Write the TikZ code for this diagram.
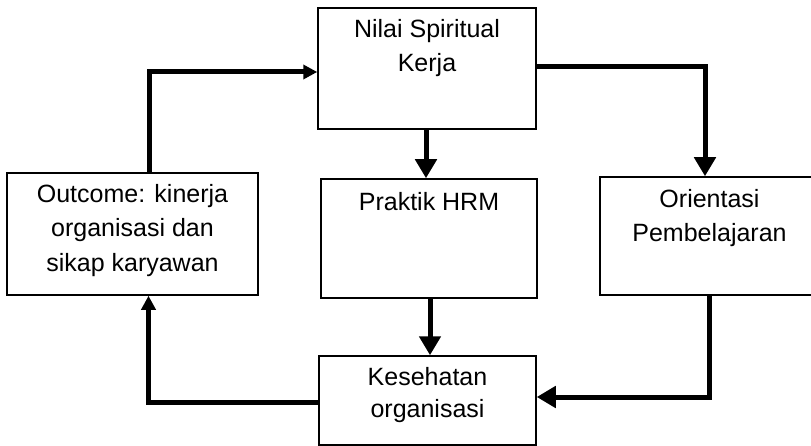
\documentclass[tikz,border=0pt]{standalone}
\usepackage{fontspec}
\setmainfont{Liberation Sans}
\usetikzlibrary{arrows.meta}

% multi-line, centred box caption; its base is the first line's baseline
\newcommand\stacktext[2][34.5pt]{\parbox[t]{260pt}{\centering\fontsize{25pt}{#1}\selectfont #2}}

\tikzset{
  block/.style={draw=black, line width=1.5pt, fill=white, inner sep=0pt, anchor=center},
  caption/.style={anchor=base, inner sep=0pt},
  conn/.style={draw=black, line width=5pt, line join=miter},
  bigtip/.style={-{Triangle[length=19pt,width=21pt]}},
  smalltip/.style={-{Triangle[length=14pt,width=14pt]}}
}

\begin{document}
\begin{tikzpicture}[x=1pt,y=-1pt]
  \useasboundingbox (0,0) rectangle (811,446);

  % boxes
  \node[block, minimum width=218pt, minimum height=121pt] (nilai)   at (427,68.5)   {};
  \node[block, minimum width=216pt, minimum height=119pt] (praktik) at (429,238.5)  {};
  \node[block, minimum width=219pt, minimum height=118pt] (orient)  at (709.5,236)  {};
  \node[block, minimum width=251pt, minimum height=122pt] (outcome) at (132.5,234)  {};
  \node[block, minimum width=217pt, minimum height=89pt]  (kes)     at (427.5,400.5){};

  % captions
  \node[caption] (tnilai)   at ([yshift=-30pt]nilai.north)   {\stacktext{Nilai Spiritual\\Kerja}};
  \node[caption] (tpraktik) at ([yshift=-32pt]praktik.north) {\stacktext{Praktik HRM}};
  \node[caption] (torient)  at ([yshift=-31pt]orient.north)  {\stacktext{Orientasi\\Pembelajaran}};
  \node[caption] (toutcome) at ([yshift=-30pt]outcome.north) {\stacktext{Outcome: kinerja\\organisasi dan\\sikap karyawan}};
  \node[caption] (tkes)     at ([yshift=-30pt]kes.north)     {\stacktext[32pt]{Kesehatan\\organisasi}};

  % connectors
  \draw[conn, bigtip] ([yshift=1.5pt]nilai.east) -| ([xshift=-4.5pt]orient.north);
  \draw[conn, bigtip] ([xshift=-1pt]nilai.south) -- ([xshift=-1pt]nilai.south |- praktik.north);
  \draw[conn, bigtip] ([xshift=1pt]praktik.south) -- ([xshift=1pt]praktik.south |- kes.north);
  \draw[conn, bigtip] (orient.south) |- ([yshift=3.5pt]kes.east);
  \draw[conn, smalltip] ([yshift=-1.5pt]kes.west) -| ([xshift=16pt]outcome.south);
  \draw[conn, smalltip] ([xshift=17pt]outcome.north) |- ([yshift=-3.5pt]nilai.west);
\end{tikzpicture}
\end{document}
